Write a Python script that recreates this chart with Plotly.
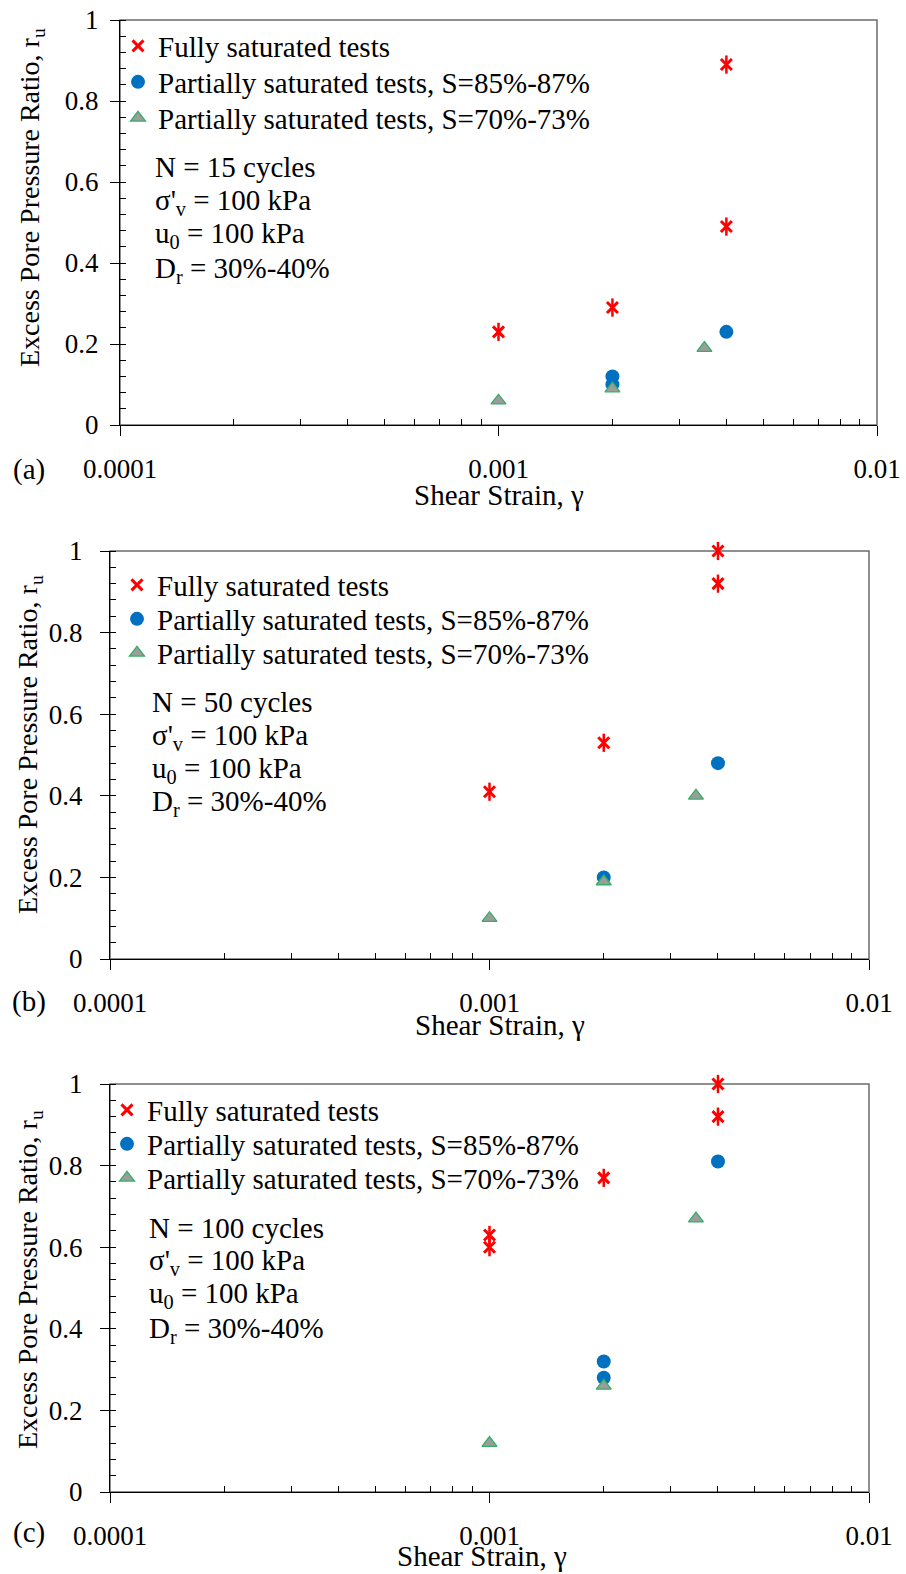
import plotly.graph_objects as go

# ---- data: excess pore pressure ratio r_u vs shear strain ----
# N = 15 cycles
strain_full_15 = [0.001, 0.002, 0.004, 0.004]
ru_full_15 = [0.23, 0.29, 0.89, 0.49]
strain_s85_15 = [0.002, 0.002, 0.004]
ru_s85_15 = [0.12, 0.10, 0.23]
strain_s70_15 = [0.001, 0.002, 0.0035]
ru_s70_15 = [0.06, 0.09, 0.19]

# N = 50 cycles
strain_full_50 = [0.001, 0.002, 0.004, 0.004]
ru_full_50 = [0.41, 0.53, 1.00, 0.92]
strain_s85_50 = [0.002, 0.004]
ru_s85_50 = [0.20, 0.48]
strain_s70_50 = [0.001, 0.002, 0.0035]
ru_s70_50 = [0.10, 0.19, 0.40]

# N = 100 cycles
strain_full_100 = [0.001, 0.001, 0.002, 0.004, 0.004]
ru_full_100 = [0.63, 0.60, 0.77, 1.00, 0.92]
strain_s85_100 = [0.002, 0.002, 0.004]
ru_s85_100 = [0.32, 0.28, 0.81]
strain_s70_100 = [0.001, 0.002, 0.0035]
ru_s70_100 = [0.12, 0.26, 0.67]

series_names = ["Fully saturated tests",
                "Partially saturated tests, S=85%-87%",
                "Partially saturated tests, S=70%-73%"]
cycle_counts = [15, 50, 100]
panel_tags = ["(a)", "(b)", "(c)"]

x_tickvals = [1e-4, 1e-3, 1e-2]
x_ticktext = ["0.0001", "0.001", "0.01"]
x_minor = [m * 10.0 ** e for e in (-4, -3) for m in range(2, 10)]
y_tickvals = [0, 0.2, 0.4, 0.6, 0.8, 1]

panels = [
    (strain_full_15, ru_full_15, strain_s85_15, ru_s85_15, strain_s70_15, ru_s70_15),
    (strain_full_50, ru_full_50, strain_s85_50, ru_s85_50, strain_s70_50, ru_s70_50),
    (strain_full_100, ru_full_100, strain_s85_100, ru_s85_100, strain_s70_100, ru_s70_100),
]

# ---- page geometry (pixels) ----
W, H = 906, 1574
FONT = "Liberation Serif"
RED = "#FF0000"
BLUE = "#0070C0"
TRI_FILL = "#9C9C9C"
TRI_LINE = "#33B064"

# plot boxes: left, right, top, bottom
boxes = [(120, 877, 20, 425), (110, 869, 551, 959), (110, 869, 1084, 1492)]
label_standoff = [6, 12, 12]
legend_left = [118, 117, 107]
legend_rows = [[46, 82, 118], [585, 619, 653], [1110, 1144, 1178]]
info_x = [153, 150, 147]
info_y = [[167, 202, 235, 270], [702, 737, 770, 803], [1228, 1262, 1295, 1330]]
xtitle_pos = [(499, 495), (500, 1025), (482, 1556)]
ytitle_pos = [(31, 198), (29, 745), (29, 1280)]
tag_pos = [(29, 470), (29, 1001), (29, 1532)]


def px(x):
    return x / W


def py(y):
    return 1 - y / H


fig = go.Figure()
layout = {}
annotations = []
shapes = []
legend_no = 0

for i, (xf, yf, xb, yb, xt, yt) in enumerate(panels):
    n = i + 1
    xa = "x" if n == 1 else f"x{n}"
    ya = "y" if n == 1 else f"y{n}"

    # one legend box per entry so each row sits where it should
    lg_ids = []
    for r in range(3):
        legend_no += 1
        lid = "legend" if legend_no == 1 else f"legend{legend_no}"
        lg_ids.append(lid)
        layout[lid] = dict(
            x=px(legend_left[i]), y=py(legend_rows[i][r]),
            xanchor="left", yanchor="middle",
            bgcolor="rgba(0,0,0,0)", borderwidth=0,
            font=dict(family=FONT, size=29, color="black"),
        )

    fig.add_trace(go.Scatter(
        x=xf, y=yf, mode="markers", name=series_names[0], xaxis=xa, yaxis=ya,
        legend=lg_ids[0], cliponaxis=False,
        marker=dict(symbol="x-thin-open", size=11, color=RED,
                    line=dict(color=RED, width=3))))
    fig.add_trace(go.Scatter(
        x=xf, y=yf, mode="markers", showlegend=False, xaxis=xa, yaxis=ya,
        cliponaxis=False, hoverinfo="skip",
        marker=dict(symbol="line-ns-open", size=13, color=RED,
                    line=dict(color=RED, width=2.5))))
    fig.add_trace(go.Scatter(
        x=xb, y=yb, mode="markers", name=series_names[1], xaxis=xa, yaxis=ya,
        legend=lg_ids[1], cliponaxis=False,
        marker=dict(symbol="circle", size=14, color=BLUE)))
    fig.add_trace(go.Scatter(
        x=xt, y=yt, mode="markers", name=series_names[2], xaxis=xa, yaxis=ya,
        legend=lg_ids[2], cliponaxis=False,
        marker=dict(symbol="triangle-up", size=13, color=TRI_FILL,
                    line=dict(color=TRI_LINE, width=1.3))))

    left, right, top, bottom = boxes[i]
    xkey = "xaxis" if n == 1 else f"xaxis{n}"
    ykey = "yaxis" if n == 1 else f"yaxis{n}"
    layout[xkey] = dict(
        type="log", range=[-4, -2], domain=[px(left), px(right)], anchor=ya,
        automargin=False,
        showgrid=False, zeroline=False, showline=True, linecolor="black",
        linewidth=1.3, ticks="outside", ticklen=10, tickcolor="black",
        tickmode="array", tickvals=x_tickvals, ticktext=x_ticktext,
        ticklabelstandoff=9,
        tickfont=dict(family=FONT, size=27, color="black"),
        minor=dict(ticks="inside", ticklen=6, tickcolor="black",
                   tickmode="array", tickvals=x_minor, showgrid=False),
    )
    layout[ykey] = dict(
        range=[0, 1], domain=[py(bottom), py(top)], anchor=xa,
        automargin=False,
        showgrid=False, zeroline=False, showline=True, linecolor="black",
        linewidth=1.3, ticks="outside", ticklen=9, tickcolor="black",
        tickmode="array", tickvals=y_tickvals,
        ticklabelstandoff=label_standoff[i],
        tickfont=dict(family=FONT, size=27, color="black"),
        minor=dict(ticks="inside", ticklen=6, tickcolor="black",
                   dtick=0.04, tick0=0, showgrid=False),
    )

    # plot-area frame
    shapes.append(dict(type="rect", xref=f"{xa} domain", yref=f"{ya} domain",
                       x0=0, x1=1, y0=0, y1=1, layer="below",
                       line=dict(color="#6b6b6b", width=1.5)))

    info_lines = [f"N = {cycle_counts[i]} cycles",
                  "σ'<sub>v</sub> = 100 kPa",
                  "u<sub>0</sub> = 100 kPa",
                  "D<sub>r</sub> = 30%-40%"]
    for txt, yy in zip(info_lines, info_y[i]):
        annotations.append(dict(
            text=txt, x=px(info_x[i]), y=py(yy), xref="paper", yref="paper",
            xanchor="left", yanchor="middle", showarrow=False,
            font=dict(family=FONT, size=29, color="black")))

    tx, ty = xtitle_pos[i]
    annotations.append(dict(
        text="Shear Strain, γ", x=px(tx), y=py(ty), xref="paper", yref="paper",
        xanchor="center", yanchor="middle", showarrow=False,
        font=dict(family=FONT, size=29, color="black")))

    vx, vy = ytitle_pos[i]
    annotations.append(dict(
        text="Excess Pore Pressure Ratio, r<sub>u</sub>", x=px(vx), y=py(vy),
        xref="paper", yref="paper", xanchor="center", yanchor="middle",
        textangle=-90, showarrow=False,
        font=dict(family=FONT, size=28, color="black")))

    gx, gy = tag_pos[i]
    annotations.append(dict(
        text=panel_tags[i], x=px(gx), y=py(gy), xref="paper", yref="paper",
        xanchor="center", yanchor="middle", showarrow=False,
        font=dict(family=FONT, size=29, color="black")))

fig.update_layout(
    template="none",
    width=W, height=H, margin=dict(l=0, r=0, t=0, b=0, pad=0),
    paper_bgcolor="white", plot_bgcolor="white",
    font=dict(family=FONT, color="black"),
    annotations=annotations, shapes=shapes, **layout,
)

fig.write_html("out.html")
